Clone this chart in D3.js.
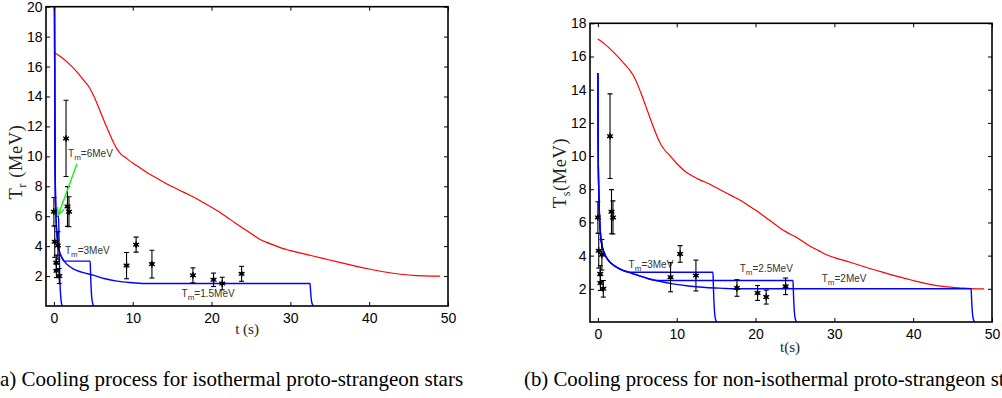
<!DOCTYPE html>
<html>
<head>
<meta charset="utf-8">
<script src="https://cdn.jsdelivr.net/npm/d3@7"></script>
<style>
  html, body { margin: 0; padding: 0; background: #fff; }
  svg { display: block; }
  .tick text { font-family: "Liberation Sans", Arial, sans-serif; font-size: 14px; fill: #000; }
  .tick line { stroke: #000; stroke-width: 1; }
  .serif { font-family: "Liberation Serif", "Times New Roman", serif; }
  .note { font-family: "Liberation Sans", Arial, sans-serif; font-size: 10px; fill: #333; }
</style>
</head>
<body>
<svg id="fig" width="1002" height="398"></svg>
<script>
// ---- shared axis ticks ----
const xTicks = [0, 10, 20, 30, 40, 50];
const yTicksA = [2, 4, 6, 8, 10, 12, 14, 16, 18, 20];
const yTicksB = [2, 4, 6, 8, 10, 12, 14, 16, 18];

// ---- SN 1987A neutrino events: time (s), temperature (MeV), error (MeV) ----
const obsTime = [0.000, 0.107, 0.303, 0.324, 0.507, 0.686, 1.541, 1.728, 1.915, 9.219, 10.433, 12.439, 17.641, 20.257, 21.355, 23.814];
const obsTemp = [6.3, 4.3, 2.9, 2.35, 4.05, 2.0, 11.2, 6.65, 6.3, 2.7, 4.1, 2.8, 2.05, 1.75, 1.5, 2.15];
const obsErr  = [0.95, 1.05, 0.5, 0.45, 0.92, 0.5, 2.55, 1.33, 1.0, 0.88, 0.5, 0.93, 0.5, 0.45, 0.42, 0.5];

// ---- (a) isothermal: red reference curve ----
const redTimeA = [0, 1, 2, 3, 4, 4.5, 5, 5.5, 6, 6.5, 7, 7.5, 8, 8.5, 9, 10, 11, 12, 13, 14, 15, 16, 17, 18, 19, 20, 21, 22, 23, 24, 25, 26, 27, 28, 29, 30, 32, 34, 36, 38, 40, 42, 44, 46, 48, 49];
const redTempA = [16.95, 16.6, 16.15, 15.6, 14.95, 14.6, 14.1, 13.5, 12.85, 12.2, 11.6, 11.0, 10.5, 10.15, 9.95, 9.55, 9.2, 8.85, 8.55, 8.25, 7.98, 7.72, 7.47, 7.2, 6.9, 6.6, 6.28, 5.92, 5.55, 5.2, 4.85, 4.5, 4.25, 4.05, 3.85, 3.7, 3.45, 3.2, 2.95, 2.7, 2.47, 2.27, 2.12, 2.03, 2.0, 2.0];

// ---- (a) isothermal: surface cooling track ----
const coolTimeA = [0.02, 0.08, 0.12, 0.16, 0.2, 0.25, 0.3, 0.4, 0.5, 0.7, 1.0, 1.3, 1.8, 2.5, 3.5, 5, 6.5, 8, 10, 12];
const coolTempA = [30, 20, 13, 9.2, 7.3, 6.2, 5.5, 4.7, 4.2, 3.65, 3.25, 3.0, 2.72, 2.47, 2.26, 2.06, 1.82, 1.66, 1.55, 1.47];
const meltTempA = [6, 3, 1.5];
const meltEndA  = [0.6, 4.6, 32.5];

// ---- (b) non-isothermal: red reference curve ----
const redTimeB = [0, 1, 2, 3, 4, 4.5, 5, 5.5, 6, 6.5, 7, 7.5, 8, 8.5, 9, 10, 11, 12, 13, 14, 15, 16, 17, 18, 19, 20, 21, 22, 23, 24, 25, 26, 27, 28, 29, 30, 32, 34, 36, 38, 40, 42, 44, 46, 48, 49];
const redTempB = [17.05, 16.7, 16.25, 15.75, 15.2, 14.85, 14.35, 13.75, 13.1, 12.45, 11.8, 11.2, 10.7, 10.35, 10.1, 9.55, 9.1, 8.8, 8.55, 8.35, 8.1, 7.85, 7.6, 7.35, 7.05, 6.75, 6.4, 6.05, 5.7, 5.4, 5.15, 4.85, 4.55, 4.3, 4.05, 3.88, 3.6, 3.3, 3.02, 2.75, 2.5, 2.28, 2.13, 2.05, 2.0, 2.0];

// ---- (b) non-isothermal: surface cooling track ----
const coolTimeB = [0, 0.03, 0.07, 0.12, 0.2, 0.3, 0.43, 0.7, 1.07, 1.5, 2.0, 2.76, 4.0, 5.5, 7.4, 9.5, 11.5, 13.7, 16.3, 18];
const coolTempB = [15, 11, 9, 7.8, 6.4, 5.5, 4.85, 4.3, 3.9, 3.62, 3.42, 3.2, 2.99, 2.75, 2.5, 2.3, 2.17, 2.08, 2.02, 1.98];
const meltTempB = [3, 2.5, 2];
const meltEndB  = [14.6, 24.75, 47.35];

// ---- fall-off after the plateau: seconds after its end, fraction of T_m ----
const dropTime = [0, 0.05, 0.1, 0.15, 0.2, 0.27, 0.35, 0.45];
const dropFrac = [1, 0.75, 0.5, 0.32, 0.2, 0.1, 0.04, 0];

const svg = d3.select("#fig");

// cooling track until it reaches T_m, plateau at T_m, then the fall-off
function plateauTrack(coolT, coolV, tm, tEnd) {
  const pts = [];
  for (let i = 0; i < coolT.length; i++) {
    if (coolV[i] > tm) { pts.push([coolT[i], coolV[i]]); continue; }
    const f = (coolV[i - 1] - tm) / (coolV[i - 1] - coolV[i]);
    pts.push([coolT[i - 1] + f * (coolT[i] - coolT[i - 1]), tm]);
    break;
  }
  pts.push([tEnd, tm]);
  for (let k = 1; k < dropTime.length; k++) pts.push([tEnd + dropTime[k], tm * dropFrac[k]]);
  return pts;
}

function drawPanel(cfg) {
  const x = d3.scaleLinear().domain([-1, 50]).range([cfg.left, cfg.right]);
  const y = d3.scaleLinear().domain([0, cfg.yMax]).range([cfg.bottom, cfg.top]);
  const g = svg.append("g");

  const clipId = "clip-" + cfg.id;
  svg.append("clipPath").attr("id", clipId).append("rect")
    .attr("x", cfg.left).attr("y", cfg.top)
    .attr("width", cfg.right - cfg.left).attr("height", cfg.bottom - cfg.top);
  const plot = g.append("g").attr("clip-path", `url(#${clipId})`);

  const smooth = d3.line().x(d => x(d[0])).y(d => y(d[1])).curve(d3.curveMonotoneX);

  // red curve
  plot.append("path")
    .datum(d3.zip(cfg.redT, cfg.redV))
    .attr("d", smooth)
    .attr("fill", "none").attr("stroke", "#ff0000").attr("stroke-width", 1.2);

  // blue plateau tracks
  cfg.tm.forEach((tm, i) => {
    plot.append("path")
      .datum(plateauTrack(cfg.coolT, cfg.coolV, tm, cfg.tEnd[i]))
      .attr("d", smooth)
      .attr("fill", "none").attr("stroke", "#0000ff").attr("stroke-width", 1.4);
  });

  // observed events with error bars
  const ev = plot.append("g").attr("stroke", "#000");
  obsTime.forEach((t, i) => {
    const cx = x(t), cy = y(obsTemp[i]);
    const y0 = y(obsTemp[i] - obsErr[i]), y1 = y(obsTemp[i] + obsErr[i]);
    ev.append("line").attr("x1", cx).attr("x2", cx).attr("y1", y0).attr("y2", y1).attr("stroke-width", 1.1);
    ev.append("line").attr("x1", cx - 2.5).attr("x2", cx + 2.5).attr("y1", y0).attr("y2", y0).attr("stroke-width", 1.1);
    ev.append("line").attr("x1", cx - 2.5).attr("x2", cx + 2.5).attr("y1", y1).attr("y2", y1).attr("stroke-width", 1.1);
    const r = 3.4;
    [0, 60, 120].forEach(a => {
      const dx = r * Math.sin(a * Math.PI / 180), dy = r * Math.cos(a * Math.PI / 180);
      ev.append("line").attr("x1", cx - dx).attr("x2", cx + dx).attr("y1", cy - dy).attr("y2", cy + dy).attr("stroke-width", 1.3);
    });
    ev.append("circle").attr("cx", cx).attr("cy", cy).attr("r", 2).attr("fill", "#000").attr("stroke", "none");
  });

  // axes: inward ticks on all four sides
  const bottom = g.append("g").attr("transform", `translate(0,${cfg.bottom})`)
    .call(d3.axisBottom(x).tickValues(xTicks).tickSizeInner(-4).tickSizeOuter(0).tickPadding(7));
  bottom.select(".domain").remove();
  const top = g.append("g").attr("transform", `translate(0,${cfg.top})`)
    .call(d3.axisTop(x).tickValues(xTicks).tickSizeInner(-4).tickSizeOuter(0).tickFormat(""));
  top.select(".domain").remove();
  const left = g.append("g").attr("transform", `translate(${cfg.left},0)`)
    .call(d3.axisLeft(y).tickValues(cfg.yTicks).tickSizeInner(-4).tickSizeOuter(0).tickPadding(3.5));
  left.select(".domain").remove();
  const right = g.append("g").attr("transform", `translate(${cfg.right},0)`)
    .call(d3.axisRight(y).tickValues(cfg.yTicks).tickSizeInner(-4).tickSizeOuter(0).tickFormat(""));
  right.select(".domain").remove();

  g.append("rect")
    .attr("x", cfg.left).attr("y", cfg.top)
    .attr("width", cfg.right - cfg.left).attr("height", cfg.bottom - cfg.top)
    .attr("fill", "none").attr("stroke", "#000").attr("stroke-width", 1.6);

  // T_m annotations
  cfg.notes.forEach(n => {
    const t = g.append("text").attr("class", "note").attr("x", x(n.t)).attr("y", y(n.v));
    t.append("tspan").text("T");
    t.append("tspan").attr("dy", 3).attr("font-size", "8px").text("m");
    t.append("tspan").attr("dy", -3).text("=" + n.label);
  });

  // axis titles
  g.append("text").attr("class", "serif")
    .attr("x", cfg.xLabelPos[0]).attr("y", cfg.xLabelPos[1])
    .attr("text-anchor", "middle").attr("font-size", "15px").attr("fill", "#222")
    .text(cfg.xLabel);
  const yl = g.append("text").attr("class", "serif")
    .attr("transform", `translate(${cfg.yLabelPos[0]},${cfg.yLabelPos[1]}) rotate(-90)`)
    .attr("text-anchor", "middle").attr("font-size", "18.5px").attr("fill", "#222")
    .attr("letter-spacing", "0.6px");
  yl.append("tspan").text("T");
  yl.append("tspan").attr("dy", 3.5).attr("font-size", "12px").text(cfg.ySub);
  yl.append("tspan").attr("dy", -3.5).text(cfg.yUnit);

  return { x, y, g };
}

const pa = drawPanel({
  id: "a", left: 46, right: 448, top: 6.7, bottom: 306, yMax: 20, yTicks: yTicksA,
  redT: redTimeA, redV: redTempA, coolT: coolTimeA, coolV: coolTempA,
  tm: meltTempA, tEnd: meltEndA,
  notes: [
    { t: 1.8, v: 9.95, label: "6MeV" },
    { t: 1.4, v: 3.5, label: "3MeV" },
    { t: 16.2, v: 0.6, label: "1.5MeV" }
  ],
  xLabel: "t (s)", xLabelPos: [247, 334],
  ySub: "r", yUnit: " (MeV)", yLabelPos: [22, 162]
});

// arrow pointing at the 6 MeV plateau
(function () {
  const x = pa.x, y = pa.y;
  const x0 = x(2.93), y0 = y(9.5), x1 = x(0.56), y1 = y(6.08);
  const ang = Math.atan2(y1 - y0, x1 - x0);
  const L = 8, spread = 0.45;
  const head = [ang + Math.PI - spread, ang + Math.PI + spread].map(a => [x1 + L * Math.cos(a), y1 + L * Math.sin(a)]);
  pa.g.append("path")
    .attr("d", `M${x0},${y0}L${x1},${y1}M${head[0][0]},${head[0][1]}L${x1},${y1}L${head[1][0]},${head[1][1]}`)
    .attr("fill", "none").attr("stroke", "#22ee22").attr("stroke-width", 1.5);
})();

drawPanel({
  id: "b", left: 590, right: 992, top: 23.3, bottom: 322, yMax: 18, yTicks: yTicksB,
  redT: redTimeB, redV: redTempB, coolT: coolTimeB, coolV: coolTempB,
  tm: meltTempB, tEnd: meltEndB,
  notes: [
    { t: 3.9, v: 3.23, label: "3MeV" },
    { t: 18, v: 3.0, label: "2.5MeV" },
    { t: 28.4, v: 2.4, label: "2MeV" }
  ],
  xLabel: "t(s)", xLabelPos: [790, 352],
  ySub: "s", yUnit: "(MeV)", yLabelPos: [566, 173]
});

// sub-figure captions (the row is wider than the view, so the outer ends run past its edges)
svg.append("text").attr("class", "serif").attr("x", -7).attr("y", 386)
  .attr("font-size", "21px").attr("fill", "#000")
  .text("(a) Cooling process for isothermal proto-strangeon stars");
svg.append("text").attr("class", "serif").attr("x", 524).attr("y", 386)
  .attr("font-size", "20.8px").attr("fill", "#000")
  .text("(b) Cooling process for non-isothermal proto-strangeon stars");
</script>
</body>
</html>
